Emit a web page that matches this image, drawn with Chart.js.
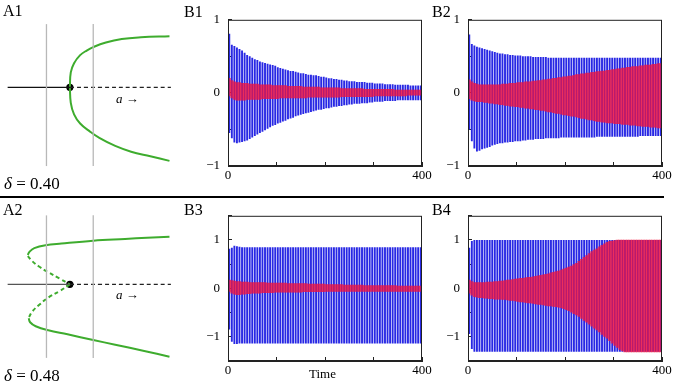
<!DOCTYPE html>
<html>
<head>
<meta charset="utf-8">
<script src="https://cdn.jsdelivr.net/npm/chart.js@4"></script>
<style>
body { margin: 0; width: 677px; height: 388px; overflow: hidden; background: #fff; position: relative;
       font-family: "Liberation Serif", "Times New Roman", serif; color: #000; }
canvas { position: absolute; }
.lab { position: absolute; font-size: 16px; line-height: 1; white-space: nowrap; }
.small { font-size: 13px; }
#sep { position: absolute; left: 0; top: 196px; width: 664px; height: 2px; background: #000; }
</style>
</head>
<body>

<canvas id="a1" width="176" height="190" style="left:0;top:0"></canvas>
<canvas id="b1" width="262" height="196" style="left:180px;top:0"></canvas>
<canvas id="b2" width="250" height="196" style="left:430px;top:0"></canvas>
<canvas id="a2" width="176" height="190" style="left:0;top:197px"></canvas>
<canvas id="b3" width="262" height="192" style="left:180px;top:196px"></canvas>
<canvas id="b4" width="250" height="192" style="left:430px;top:196px"></canvas>
<div id="sep"></div>

<div class="lab" style="left:3px;top:3px">A1</div>
<div class="lab" style="left:184px;top:4px">B1</div>
<div class="lab" style="left:432px;top:4px">B2</div>
<div class="lab" style="left:3px;top:202px">A2</div>
<div class="lab" style="left:184px;top:202px">B3</div>
<div class="lab" style="left:432px;top:202px">B4</div>
<div class="lab" style="left:4px;top:175px;font-size:17px"><i>δ</i> = 0.40</div>
<div class="lab" style="left:4px;top:367px;font-size:17px"><i>δ</i> = 0.48</div>
<div class="lab small" style="left:116px;top:92px"><i>a</i> →</div>
<div class="lab small" style="left:116px;top:288px"><i>a</i> →</div>
<div class="lab small" style="left:309px;top:367px">Time</div>

<script>
// ---- bifurcation sketches (a = parameter, y = amplitude) ----
const grayA = [-0.5, 0.5];
const bifPoint = [0, 0];
const stemSolid = [[-1.33, 0], [0, 0]];
const stemDashed = [[0, 0], [2.16, 0]];

const a1Upper = [[0,0],[0.02,0.26],[0.09,0.42],[0.22,0.56],[0.36,0.64],[0.50,0.70],[0.77,0.78],[1.11,0.84],[1.52,0.87],[2.13,0.89]];
const a1Lower = [[0,0],[0.02,-0.27],[0.09,-0.47],[0.22,-0.63],[0.43,-0.77],[0.63,-0.88],[0.97,-1.02],[1.31,-1.12],[1.72,-1.20],[2.13,-1.28]];

const a2UpperStable = [[-0.90,0.51],[-0.86,0.57],[-0.76,0.63],[-0.52,0.68],[-0.18,0.71],[0.50,0.76],[1.18,0.79],[1.65,0.81],[2.13,0.83]];
const a2UpperUnstable = [[-0.90,0.49],[-0.80,0.40],[-0.66,0.31],[-0.46,0.21],[-0.22,0.10],[0,0]];
const a2LowerUnstable = [[0,0],[-0.22,-0.12],[-0.46,-0.23],[-0.66,-0.36],[-0.80,-0.47],[-0.88,-0.58]];
const a2LowerStable = [[-0.88,-0.59],[-0.85,-0.66],[-0.73,-0.73],[-0.46,-0.80],[-0.05,-0.87],[0.50,-0.97],[0.97,-1.05],[1.59,-1.16],[2.13,-1.26]];

// ---- time series: envelope of each oscillation cycle (0..400) ----
const b1BlueHi = [0.81,0.66,0.64,0.62,0.60,0.58,0.55,0.52,0.50,0.48,0.46,0.45,0.43,0.42,0.41,0.40,0.39,0.38,0.37,
  0.35,0.34,0.33,0.32,0.31,0.30,0.30,0.29,0.28,0.27,0.27,0.26,0.25,0.25,0.24,0.24,0.23,0.22,0.22,
  0.21,0.20,0.20,0.19,0.19,0.18,0.18,0.17,0.17,0.16,0.16,0.16,0.15,0.15,0.15,0.15,0.14,0.14,0.14,
  0.13,0.13,0.13,0.13,0.12,0.12,0.12,0.12,0.11,0.11,0.11,0.11,0.11,0.11,0.10,0.10,0.10,0.10,0.10];
const b1BlueLo = [-0.55,-0.62,-0.68,-0.69,-0.68,-0.67,-0.66,-0.65,-0.63,-0.61,-0.59,-0.57,-0.55,-0.53,-0.51,-0.49,-0.47,-0.45,-0.44,
  -0.42,-0.41,-0.39,-0.38,-0.36,-0.35,-0.34,-0.32,-0.31,-0.30,-0.29,-0.28,-0.27,-0.26,-0.25,-0.24,-0.23,-0.23,-0.22,
  -0.21,-0.21,-0.20,-0.19,-0.19,-0.18,-0.18,-0.17,-0.17,-0.16,-0.16,-0.15,-0.15,-0.15,-0.14,-0.14,-0.14,-0.13,-0.13,
  -0.12,-0.12,-0.12,-0.12,-0.11,-0.11,-0.11,-0.11,-0.11,-0.10,-0.10,-0.10,-0.10,-0.10,-0.10,-0.10,-0.10,-0.10,-0.10];
const b1RedHi = [0.20,0.17,0.15,0.14,0.14,0.13,0.13,0.13,0.12,0.12,0.12,0.12,0.11,0.11,0.11,0.11,0.11,0.10,0.10,
  0.10,0.10,0.10,0.10,0.09,0.09,0.09,0.09,0.09,0.09,0.08,0.08,0.08,0.08,0.08,0.08,0.08,0.07,0.07,
  0.07,0.07,0.07,0.07,0.07,0.07,0.06,0.06,0.06,0.06,0.06,0.06,0.06,0.06,0.06,0.05,0.05,0.05,0.05,
  0.05,0.05,0.05,0.05,0.05,0.05,0.05,0.05,0.04,0.04,0.04,0.04,0.04,0.04,0.04,0.04,0.04,0.04,0.04];
const b1RedLo = [-0.04,-0.07,-0.09,-0.10,-0.10,-0.10,-0.10,-0.09,-0.09,-0.09,-0.09,-0.09,-0.09,-0.08,-0.08,-0.08,-0.08,-0.08,-0.08,
  -0.08,-0.07,-0.07,-0.07,-0.07,-0.07,-0.07,-0.07,-0.07,-0.07,-0.07,-0.07,-0.06,-0.06,-0.06,-0.06,-0.06,-0.06,-0.06,
  -0.06,-0.06,-0.06,-0.06,-0.06,-0.06,-0.05,-0.05,-0.05,-0.05,-0.05,-0.05,-0.05,-0.05,-0.05,-0.05,-0.05,-0.05,-0.05,
  -0.04,-0.04,-0.04,-0.04,-0.04,-0.04,-0.04,-0.04,-0.04,-0.04,-0.04,-0.04,-0.04,-0.03,-0.03,-0.03,-0.03,-0.03,-0.03];

const b2BlueHi = [0.80,0.67,0.65,0.63,0.62,0.61,0.60,0.59,0.58,0.57,0.56,0.55,0.54,0.54,0.53,0.53,0.52,0.52,0.51,
  0.51,0.51,0.50,0.50,0.50,0.50,0.49,0.49,0.49,0.49,0.49,0.49,0.48,0.48,0.48,0.48,0.48,0.48,0.48,
  0.48,0.48,0.48,0.48,0.48,0.48,0.48,0.48,0.48,0.48,0.48,0.48,0.48,0.48,0.48,0.48,0.48,0.48,0.48,
  0.48,0.48,0.48,0.48,0.48,0.48,0.48,0.48,0.48,0.48,0.48,0.48,0.48,0.48,0.48,0.48,0.48,0.48,0.48];
const b2BlueLo = [-0.50,-0.66,-0.76,-0.80,-0.79,-0.77,-0.76,-0.75,-0.74,-0.72,-0.71,-0.70,-0.69,-0.69,-0.68,-0.68,-0.67,-0.67,-0.66,
  -0.66,-0.66,-0.65,-0.65,-0.64,-0.64,-0.64,-0.63,-0.63,-0.63,-0.63,-0.62,-0.62,-0.62,-0.62,-0.62,-0.62,-0.61,-0.61,
  -0.61,-0.61,-0.61,-0.61,-0.61,-0.61,-0.61,-0.61,-0.61,-0.61,-0.61,-0.61,-0.60,-0.60,-0.60,-0.60,-0.60,-0.60,-0.60,
  -0.60,-0.60,-0.60,-0.60,-0.60,-0.60,-0.60,-0.60,-0.60,-0.60,-0.59,-0.59,-0.59,-0.59,-0.59,-0.59,-0.59,-0.59,-0.59];
const b2RedHi = [0.18,0.15,0.13,0.12,0.11,0.11,0.11,0.11,0.11,0.11,0.11,0.11,0.11,0.12,0.12,0.12,0.13,0.13,0.13,
  0.14,0.14,0.14,0.15,0.15,0.15,0.16,0.16,0.17,0.17,0.18,0.18,0.19,0.19,0.20,0.20,0.21,0.21,0.22,
  0.22,0.23,0.23,0.24,0.25,0.25,0.26,0.26,0.27,0.27,0.28,0.28,0.29,0.29,0.30,0.30,0.31,0.31,0.32,
  0.32,0.33,0.33,0.34,0.34,0.35,0.35,0.36,0.36,0.36,0.37,0.37,0.38,0.38,0.38,0.39,0.39,0.40,0.40];
const b2RedLo = [-0.08,-0.10,-0.11,-0.12,-0.12,-0.12,-0.13,-0.13,-0.14,-0.14,-0.15,-0.15,-0.16,-0.16,-0.17,-0.17,-0.18,-0.18,-0.19,
  -0.19,-0.20,-0.20,-0.21,-0.21,-0.22,-0.22,-0.23,-0.23,-0.24,-0.24,-0.25,-0.26,-0.26,-0.27,-0.28,-0.28,-0.29,-0.30,
  -0.30,-0.31,-0.32,-0.32,-0.33,-0.34,-0.35,-0.35,-0.36,-0.37,-0.37,-0.38,-0.39,-0.39,-0.40,-0.40,-0.41,-0.41,-0.41,
  -0.42,-0.42,-0.42,-0.43,-0.43,-0.43,-0.44,-0.44,-0.44,-0.45,-0.45,-0.46,-0.46,-0.46,-0.47,-0.47,-0.47,-0.48,-0.48];

const b3BlueHi = [0.82,0.84,0.88,0.87,0.86,0.85,0.85,0.85,0.85,0.85,0.85,0.85,0.85,0.85,0.85,0.85,0.85,0.85,0.85,
  0.85,0.85,0.85,0.85,0.85,0.85,0.85,0.85,0.85,0.85,0.85,0.85,0.85,0.85,0.85,0.85,0.85,0.85,0.85,
  0.85,0.85,0.85,0.85,0.85,0.85,0.85,0.85,0.85,0.85,0.85,0.85,0.85,0.85,0.85,0.85,0.85,0.85,0.85,
  0.85,0.85,0.85,0.85,0.85,0.85,0.85,0.85,0.85,0.85,0.85,0.85,0.85,0.85,0.85,0.85,0.85,0.85,0.85];
const b3BlueLo = [-0.85,-1.10,-1.15,-1.15,-1.14,-1.14,-1.14,-1.14,-1.14,-1.14,-1.14,-1.14,-1.14,-1.14,-1.14,-1.14,-1.14,-1.14,-1.14,
  -1.14,-1.14,-1.14,-1.14,-1.14,-1.14,-1.14,-1.14,-1.14,-1.14,-1.14,-1.14,-1.14,-1.14,-1.14,-1.14,-1.14,-1.14,-1.14,
  -1.14,-1.14,-1.14,-1.14,-1.14,-1.14,-1.14,-1.14,-1.14,-1.14,-1.14,-1.14,-1.14,-1.14,-1.14,-1.14,-1.14,-1.14,-1.14,
  -1.14,-1.14,-1.14,-1.14,-1.14,-1.14,-1.14,-1.14,-1.14,-1.14,-1.14,-1.14,-1.14,-1.14,-1.14,-1.14,-1.14,-1.14,-1.14];
const b3RedHi = [0.17,0.16,0.15,0.14,0.14,0.13,0.13,0.13,0.12,0.12,0.12,0.12,0.12,0.12,0.12,0.11,0.11,0.11,0.11,
  0.11,0.11,0.11,0.11,0.10,0.10,0.10,0.10,0.10,0.10,0.10,0.10,0.09,0.09,0.09,0.09,0.09,0.09,0.09,
  0.08,0.08,0.08,0.08,0.08,0.08,0.08,0.07,0.07,0.07,0.07,0.07,0.07,0.07,0.07,0.06,0.06,0.06,0.06,
  0.06,0.06,0.06,0.06,0.06,0.06,0.06,0.06,0.06,0.05,0.05,0.05,0.05,0.05,0.05,0.05,0.05,0.05,0.05];
const b3RedLo = [-0.06,-0.10,-0.12,-0.13,-0.13,-0.12,-0.12,-0.11,-0.11,-0.10,-0.10,-0.10,-0.10,-0.09,-0.09,-0.09,-0.09,-0.09,-0.08,
  -0.08,-0.08,-0.08,-0.08,-0.08,-0.08,-0.08,-0.08,-0.08,-0.08,-0.07,-0.07,-0.07,-0.07,-0.07,-0.07,-0.07,-0.07,-0.07,
  -0.06,-0.06,-0.06,-0.06,-0.06,-0.06,-0.06,-0.06,-0.06,-0.06,-0.06,-0.06,-0.06,-0.06,-0.06,-0.06,-0.06,-0.06,-0.06,
  -0.06,-0.06,-0.06,-0.06,-0.06,-0.06,-0.06,-0.06,-0.06,-0.06,-0.06,-0.06,-0.06,-0.06,-0.06,-0.06,-0.06,-0.06,-0.06];

const b4BlueHi = [0.84,0.98,1.00,1.00,1.00,1.00,1.00,1.00,1.00,1.00,1.00,1.00,1.00,1.00,1.00,1.00,1.00,1.00,1.00,
  1.00,1.00,1.00,1.00,1.00,1.00,1.00,1.00,1.00,1.00,1.00,1.00,1.00,1.00,1.00,1.00,1.00,1.00,1.00,
  1.00,1.00,1.00,1.00,1.00,1.00,1.00,1.00,1.00,1.00,1.00,1.00,1.00,1.00,1.00,1.00,1.00,1.00,1.00,
  1.00,1.00,1.00,1.00,1.00,1.00,1.00,1.00,1.00,1.00,1.00,1.00,1.00,1.00,1.00,1.00,1.00,1.00,1.00];
const b4BlueLo = [-0.94,-1.25,-1.31,-1.31,-1.31,-1.31,-1.31,-1.31,-1.31,-1.31,-1.31,-1.31,-1.31,-1.31,-1.31,-1.31,-1.31,-1.31,-1.31,
  -1.31,-1.31,-1.31,-1.31,-1.31,-1.31,-1.31,-1.31,-1.31,-1.31,-1.31,-1.31,-1.31,-1.31,-1.31,-1.31,-1.31,-1.31,-1.31,
  -1.31,-1.31,-1.31,-1.31,-1.31,-1.31,-1.31,-1.31,-1.31,-1.31,-1.31,-1.31,-1.31,-1.31,-1.31,-1.31,-1.31,-1.31,-1.31,
  -1.31,-1.31,-1.31,-1.31,-1.31,-1.31,-1.31,-1.31,-1.31,-1.31,-1.31,-1.31,-1.31,-1.31,-1.31,-1.31,-1.31,-1.31,-1.31];
const b4RedHi = [0.17,0.14,0.12,0.12,0.12,0.12,0.12,0.13,0.13,0.13,0.14,0.14,0.15,0.15,0.16,0.17,0.17,0.18,0.19,
  0.20,0.21,0.21,0.22,0.23,0.23,0.24,0.25,0.26,0.27,0.28,0.29,0.30,0.32,0.33,0.35,0.36,0.38,0.40,
  0.42,0.44,0.46,0.49,0.52,0.56,0.60,0.64,0.68,0.72,0.76,0.79,0.82,0.86,0.89,0.92,0.95,0.97,0.98,
  0.99,1.00,1.00,1.00,1.00,1.00,1.00,1.00,1.00,1.00,1.00,1.00,1.00,1.00,1.00,1.00,1.00,1.00,1.00];
const b4RedLo = [-0.10,-0.14,-0.17,-0.18,-0.19,-0.19,-0.20,-0.20,-0.21,-0.21,-0.22,-0.22,-0.22,-0.23,-0.23,-0.24,-0.25,-0.25,-0.26,
  -0.27,-0.28,-0.28,-0.29,-0.30,-0.30,-0.31,-0.32,-0.33,-0.33,-0.34,-0.35,-0.36,-0.36,-0.37,-0.38,-0.39,-0.40,-0.42,
  -0.44,-0.46,-0.49,-0.52,-0.55,-0.58,-0.62,-0.66,-0.70,-0.74,-0.78,-0.82,-0.86,-0.90,-0.95,-0.99,-1.03,-1.08,-1.13,
  -1.18,-1.22,-1.26,-1.29,-1.31,-1.31,-1.31,-1.31,-1.31,-1.31,-1.31,-1.31,-1.31,-1.31,-1.31,-1.31,-1.31,-1.31,-1.31];

const timeTicks = [0, 400];   // only these get a label

const BLUE = 'rgb(40,40,228)';
const RED = 'rgba(246,18,58,0.7)';
const GREEN = 'rgb(62,172,46)';
const FONT = { family: '"Liberation Serif", serif', size: 13 };

// box round the plot area
const frame = {
  id: 'frame',
  afterDraw(chart) {
    const a = chart.chartArea, ctx = chart.ctx;
    ctx.save();
    ctx.strokeStyle = '#222';
    ctx.lineWidth = 1;
    ctx.strokeRect(a.left + 0.5, a.top + 0.5, a.width - 1, a.height - 1);
    ctx.restore();
  }
};

function minus(v) {
  return v < 0 ? '\u2212' + Math.abs(v) : String(v);
}

function timePanel(id, blueHi, blueLo, redHi, redLo, yLim, yW, padR, xH) {
  new Chart(document.getElementById(id), {
    type: 'bar',
    data: {
      labels: blueHi.map((v, i) => i),
      datasets: [
        // red drawn on top of blue (lower order = drawn later)
        { data: redLo.map((v, i) => [v, redHi[i]]), backgroundColor: RED, order: 0,
          borderWidth: 0, grouped: false, barPercentage: 1, categoryPercentage: 1 },
        { data: blueLo.map((v, i) => [v, blueHi[i]]), backgroundColor: BLUE, order: 1,
          borderWidth: 0, grouped: false, barPercentage: 0.74, categoryPercentage: 1 }
      ]
    },
    options: {
      responsive: false, animation: false, events: [],
      layout: { padding: { top: 17, right: padR, left: 0, bottom: 0 } },
      plugins: { legend: { display: false }, tooltip: { enabled: false } },
      scales: {
        x: { display: false },
        xt: {
          type: 'linear', position: 'bottom', min: 0, max: 400, offset: false,
          afterFit: s => { s.height = xH; },
          ticks: { stepSize: 100, autoSkip: false, maxRotation: 0, padding: 6, color: '#000', font: FONT,
                   callback: v => timeTicks.includes(v) ? String(v) : '' },
          grid: { offset: false, drawOnChartArea: false, tickLength: -4, color: '#222' },
          border: { color: '#222' }
        },
        y: {
          min: -yLim, max: yLim,
          afterFit: s => { s.width = yW; },
          ticks: { stepSize: 0.5, padding: 12, color: '#000', font: FONT,
                   callback: v => Number.isInteger(v) ? minus(v) : '' },
          grid: { drawOnChartArea: false, tickLength: -4, color: '#222' },
          border: { color: '#222' }
        }
      }
    },
    plugins: [frame]
  });
}

function pts(arr) {
  return arr.map(p => ({ x: p[0], y: p[1] }));
}

function curve(arr, color, width, dash) {
  return { data: pts(arr), showLine: true, borderColor: color, borderWidth: width,
           borderDash: dash || [], pointRadius: 0, tension: 0.4, fill: false };
}

function bifPanel(id, branches, grayTop, grayBot, stemColor) {
  const ds = [];
  grayA.forEach(a => ds.push(curve([[a, grayTop], [a, grayBot]], '#b8b8b8', 1.3)));
  ds.push(curve(stemSolid, stemColor, 1.4));
  ds.push(curve(stemDashed, '#222', 1.2, [4, 3]));
  branches.forEach(b => ds.push(curve(b.pts, GREEN, 2, b.dash)));
  ds.push({ data: pts([bifPoint]), showLine: false, pointRadius: 3.6, backgroundColor: '#000', borderWidth: 0 });
  new Chart(document.getElementById(id), {
    type: 'scatter',
    data: { datasets: ds },
    options: {
      responsive: false, animation: false, events: [],
      layout: { padding: 0 },
      plugins: { legend: { display: false }, tooltip: { enabled: false } },
      scales: {
        x: { type: 'linear', display: false, min: -1.408, max: 2.184 },
        y: { type: 'linear', display: false, min: -1.717, max: 1.45 }
      }
    }
  });
}

bifPanel('a1', [{ pts: a1Upper }, { pts: a1Lower }], 1.1, -1.37, '#111');
bifPanel('a2', [
  { pts: a2UpperStable },
  { pts: a2UpperUnstable, dash: [4, 3] },
  { pts: a2LowerUnstable, dash: [4, 3] },
  { pts: a2LowerStable }
], 1.2, -1.28, '#555');

timePanel('b1', b1BlueHi, b1BlueLo, b1RedHi, b1RedLo, 1, 48, 20, 30);
timePanel('b2', b2BlueHi, b2BlueLo, b2RedHi, b2RedLo, 1, 38, 18, 30);
timePanel('b3', b3BlueHi, b3BlueLo, b3RedHi, b3RedLo, 1.5, 48, 20, 27);
timePanel('b4', b4BlueHi, b4BlueLo, b4RedHi, b4RedLo, 1.5, 38, 18, 27);
</script>
</body>
</html>
